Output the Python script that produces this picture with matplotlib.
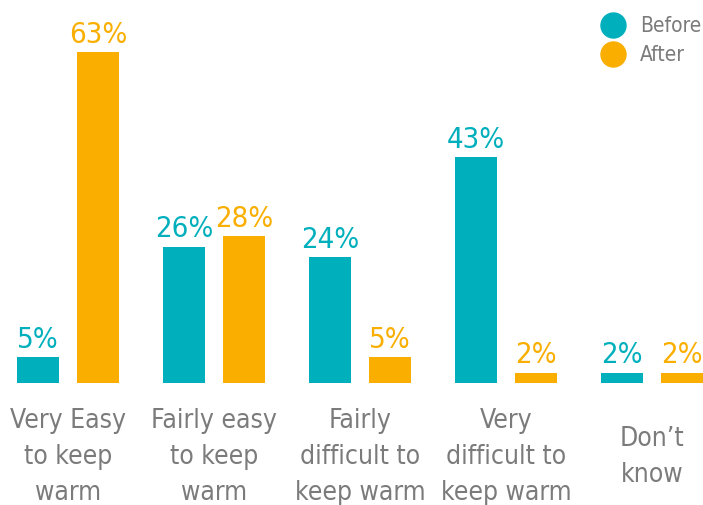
import matplotlib
matplotlib.use('Agg')
import matplotlib.pyplot as plt
from matplotlib.lines import Line2D
import numpy as np

# Données
categories = ['Very Easy\nto keep\nwarm', 'Fairly easy\nto keep\nwarm',
              'Fairly\ndifficult to\nkeep warm', 'Very\ndifficult to\nkeep warm',
              "Don\u2019t\nknow"]
before = [5, 26, 24, 43, 2]
after = [63, 28, 5, 2, 2]

TEAL = '#00AFBC'
ORANGE = '#F9AE00'
GREY = '#7B7B7B'

# police étroite
plt.rcParams['font.family'] = ['DejaVu Sans']
plt.rcParams['font.stretch'] = 'condensed'

fig = plt.figure(figsize=(7.03, 5.05), dpi=100)
ax = fig.add_axes([0, 122 / 505, 1, 383 / 505])

x = np.arange(len(categories))
dx = 30 / 146
w = 42.5 / 146
ax.bar(x - dx, before, width=w, color=TEAL)
ax.bar(x + dx, after, width=w, color=ORANGE)

ax.set_xlim(-68 / 146, (703 - 68) / 146)
ax.set_ylim(0, 383 / 5.25)
ax.axis('off')

# étiquettes de valeurs
for xi, b, a in zip(x, before, after):
    ax.text(xi - dx, b + 0.6, f'{b}%', color=TEAL, fontsize=21,
            ha='center', va='bottom')
    ax.text(xi + dx, a + 0.6, f'{a}%', color=ORANGE, fontsize=21,
            ha='center', va='bottom')

# catégories sous les barres
for xi, c in zip(x, categories):
    ax.text(xi, -74 / 5.25, c, color=GREY, fontsize=19, ha='center',
            va='center', linespacing=1.5, clip_on=False)

# légende
poignees = [Line2D([], [], ls='', marker='o', ms=18, color=TEAL),
            Line2D([], [], ls='', marker='o', ms=18, color=ORANGE)]
fig.legend(poignees, ['Before', 'After'], loc='upper right', frameon=False,
           fontsize=15, labelcolor=GREY, handletextpad=0.8, labelspacing=0.45,
           handlelength=1.0, borderaxespad=0, borderpad=0.1,
           bbox_to_anchor=(1.0, 1 - 14 / 505))

fig.savefig('out.png', dpi=100)
